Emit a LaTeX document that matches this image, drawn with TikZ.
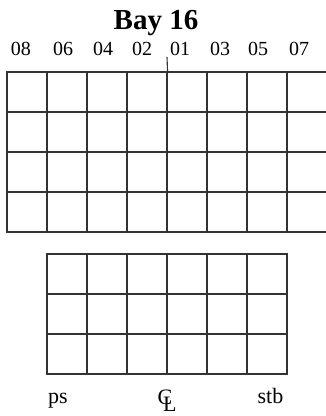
\documentclass[tikz,border=0pt]{standalone}
\usepackage{fontspec}
\setmainfont{Liberation Serif}

\begin{document}
\begin{tikzpicture}
[x=1pt,y=-1pt,%
  celldecorate/.style={shape=rectangle,minimum size=40pt,inner sep=0pt,draw=black!80,line width=1.1pt},%
  labeldecorate/.style={anchor=base,inner sep=0pt,font=\fontsize{20}{24}\selectfont},%
  sidedecorate/.style={anchor=base,inner sep=0pt,font=\fontsize{22}{26}\selectfont},%
  titledecorate/.style={anchor=base,inner sep=0pt,font=\fontsize{29}{34}\selectfont\bfseries}]
\useasboundingbox (0,0) rectangle (326,416);
%% title
\node (title) at (156,29) [titledecorate] {Bay 16};
%% upper block: 4 tiers, 8 rows
\foreach \row in {1,...,4} {
  \foreach \col in {1,...,8} {
    \node (u\row\col) at ({7+40*\col-20},{72+40*\row-20}) [celldecorate] {};
  }
}
%% lower block: 3 tiers, 6 rows
\foreach \row in {1,...,3} {
  \foreach \col in {1,...,6} {
    \node (l\row\col) at ({47+40*\col-20},{254+40*\row-20}) [celldecorate] {};
  }
}
%% row numbers
\foreach \nodename/\x in {08/21, 06/63, 04/103, 02/142, 01/180, 03/220, 05/258, 07/299} {
  \node (r\nodename) at (\x,55) [labeldecorate] {\nodename};
}
%% centre line mark
\coordinate (cltop) at (167,57);
\draw[draw=black!80,line width=1.1pt] (cltop) -- (u14.north east);
%% sides
\node (ps) at (58,403) [sidedecorate] {ps};
\node (stb) at (270.5,403) [sidedecorate] {stb};
\node (cl) at (157.5,404) [sidedecorate,anchor=base west]
  {C\kern-0.42em\raisebox{-7pt}{L}};
\end{tikzpicture}
\end{document}
